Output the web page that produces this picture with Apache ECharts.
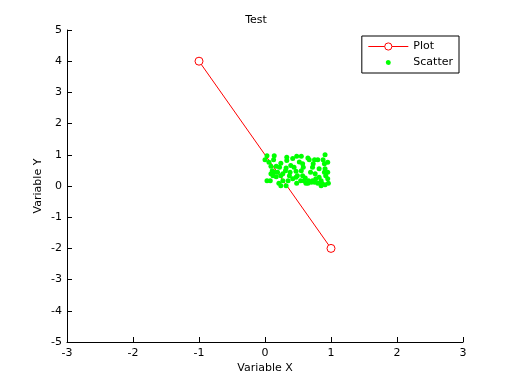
<!DOCTYPE html>
<html><head><meta charset="utf-8">
<script src="https://cdn.jsdelivr.net/npm/echarts@6/dist/echarts.min.js"></script>
<style>html,body{margin:0;padding:0;background:#fff}#c{width:512px;height:384px}</style>
</head><body><div id="c"></div>
<script>
const lineX = [-1, 1];
const lineY = [4, -2];
const scatterX = [0.00,0.03,0.06,0.14,0.13,0.17,0.09,0.11,0.14,0.12,0.03,0.08,0.21,0.24,0.27,0.24,0.19,0.24,0.33,0.33,0.32,0.38,0.35,0.42,0.48,0.55,0.44,0.39,0.47,0.49,0.48,0.55,0.57,0.58,0.54,0.61,0.65,0.67,0.69,0.66,0.65,0.72,0.75,0.73,0.76,0.80,0.82,0.75,0.80,0.85,0.91,0.88,0.90,0.95,0.91,0.95,0.92,0.96,0.91,0.85,0.72,0.59,0.37,0.31,0.22,0.09,0.17,0.42,0.52,0.82,0.95,0.90,0.77,0.70,0.62,0.32,0.27,0.47,0.57,0.86];
const scatterY = [0.84,0.97,0.76,0.97,0.84,0.63,0.63,0.49,0.44,0.33,0.17,0.17,0.09,0.01,0.17,0.33,0.44,0.73,0.92,0.82,0.58,0.44,0.17,0.88,0.95,0.95,0.60,0.66,0.47,0.33,0.09,0.49,0.71,0.60,0.17,0.26,0.90,0.84,0.44,0.17,0.09,0.60,0.84,0.71,0.39,0.84,0.28,0.12,0.09,0.01,1.00,0.84,0.71,0.76,0.55,0.44,0.33,0.09,0.04,0.17,0.17,0.17,0.33,0.49,0.60,0.39,0.30,0.23,0.77,0.55,0.23,0.44,0.23,0.12,0.09,0.01,0.39,0.28,0.33,0.09];
const xTicks = [-3,-2,-1,0,1,2,3];
const yTicks = [-5,-4,-3,-2,-1,0,1,2,3,4,5];

const font = 'DejaVu Sans';
const chart = echarts.init(document.getElementById('c'));
const axisCommon = {
  axisLine: {show: true, onZero: false, lineStyle: {color: '#000', width: 1}},
  axisTick: {show: true, inside: true, length: 5, lineStyle: {color: '#000'}},
  splitLine: {show: false},
  nameMoveOverlap: false,
  nameTextStyle: {color: '#000', fontFamily: font, fontSize: 11}
};
chart.setOption({
  animation: false,
  backgroundColor: '#fff',
  title: {text: 'Test', left: 'center', top: 10, textStyle: {fontFamily: font, fontSize: 11, fontWeight: 'normal', color: '#000'}},
  grid: {left: 67, right: 49, top: 30, bottom: 42},
  legend: {
    right: 53, top: 36, orient: 'vertical', backgroundColor: '#fff', borderColor: '#000', borderWidth: 1,
    padding: [5, 6, 5, 6], itemGap: 5, itemWidth: 40, itemHeight: 9,
    textStyle: {fontFamily: font, fontSize: 11, color: '#000'},
    lineStyle: {width: 1},
    itemStyle: {borderWidth: 1},
    data: [
      {name: 'Plot'},
      {name: 'Scatter', icon: 'path://M0,0h0.01M40,9h0.01M20,2a2.5,2.5 0 1,0 0.01,0z'}
    ]
  },
  xAxis: Object.assign({type: 'value', min: -3, max: 3, interval: 1, name: 'Variable X', nameLocation: 'middle', nameGap: 21,
    axisLabel: {color: '#000', fontFamily: font, fontSize: 11, margin: 6}}, axisCommon),
  yAxis: Object.assign({type: 'value', min: -5, max: 5, interval: 1, name: 'Variable Y', nameLocation: 'middle', nameGap: 23,
    axisLabel: {color: '#000', fontFamily: font, fontSize: 11, margin: 5}}, axisCommon),
  series: [
    {name: 'Plot', type: 'line', data: lineX.map((x, i) => [x, lineY[i]]), symbol: 'circle', symbolSize: 8, showAllSymbol: true,
      lineStyle: {color: '#ff0000', width: 1}, itemStyle: {color: '#fff', borderColor: '#ff0000', borderWidth: 1}, z: 2},
    {name: 'Scatter', type: 'scatter', data: scatterX.map((x, i) => [x, scatterY[i]]), symbol: 'circle', symbolSize: 5,
      itemStyle: {color: '#00ff00', opacity: 1}, z: 3}
  ]
});
</script></body></html>
